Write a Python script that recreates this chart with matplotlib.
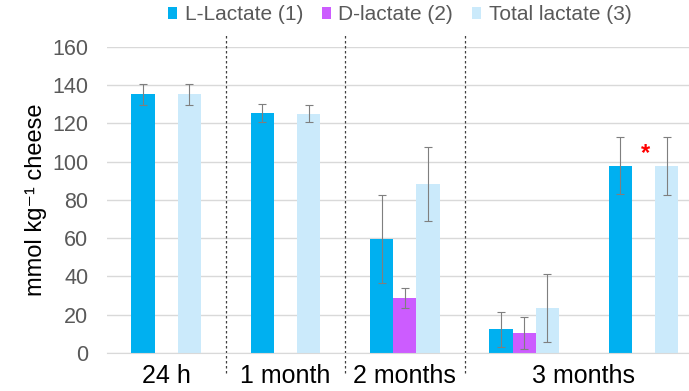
import matplotlib.pyplot as plt
import numpy as np

plt.rcParams['font.family'] = ['Liberation Sans', 'DejaVu Sans']

groups = ['24 h', '1 month', '2 months', '3 months', '3 months']
l_lactate = [135.3, 125.4, 59.6, 12.4, 97.9]
l_err = [5.5, 4.7, 23.0, 9.2, 15.0]
d_lactate = [0, 0, 28.9, 10.6, 0]
d_err = [0, 0, 5.3, 8.3, 0]
total = [135.3, 125.2, 88.4, 23.4, 97.7]
total_err = [5.5, 4.5, 19.4, 17.7, 15.2]
series_names = ['L-Lactate (1)', 'D-lactate (2)', 'Total lactate (3)']
colors = ['#00B0F0', '#CC5CFF', '#CBEAFB']

fig = plt.figure(figsize=(6.89, 3.91), dpi=100)
ax = fig.add_axes([0.1546, 0.0972, 0.866, 0.7826])

x = np.arange(len(groups))
w = 0.195
err_kw = dict(ecolor='#7F7F7F', elinewidth=0.8, capsize=3, capthick=0.8)
ax.bar(x - w, l_lactate, w, color=colors[0], label=series_names[0], zorder=2)
ax.bar(x, d_lactate, w, color=colors[1], label=series_names[1], zorder=2)
ax.bar(x + w, total, w, color=colors[2], label=series_names[2], zorder=2)
ax.errorbar(x - w, l_lactate, yerr=l_err, fmt='none', zorder=3, **err_kw)
nz = [i for i in range(len(x)) if d_lactate[i] > 0]
ax.errorbar(x[nz], [d_lactate[i] for i in nz], yerr=[d_err[i] for i in nz],
            fmt='none', zorder=3, **err_kw)
ax.errorbar(x + w, total, yerr=total_err, fmt='none', zorder=3, **err_kw)

ax.text(x[4] + 0.02, 104.5, '*', color='red', fontsize=17, fontweight='bold',
        ha='center', va='center')

ax.set_ylim(0, 160)
ax.set_xlim(-0.5, len(groups) - 0.5)
ax.set_yticks(range(0, 161, 20))
ax.tick_params(axis='y', labelsize=15.5, labelcolor='#595959', length=0, pad=13)
ax.grid(axis='y', color='#D9D9D9', linewidth=1, zorder=0)
ax.set_axisbelow(True)
for s in ['top', 'right', 'left']:
    ax.spines[s].set_visible(False)
ax.spines['bottom'].set_color('#D9D9D9')

ax.set_xticks([0, 1, 2, 3.5])
ax.set_xticklabels(['24 h', '1 month', '2 months', '3 months'], fontsize=18)
ax.tick_params(axis='x', length=0, pad=8)

ax.set_ylabel('mmol kg\u207b\u00b9 cheese', fontsize=17, labelpad=4)

# dashed separators between sampling times
for xs in [0.5, 1.5, 2.5]:
    ax.plot([xs, xs], [-0.065, 1.045], transform=ax.get_xaxis_transform(),
            color='#404040', linestyle=(0, (2, 2)), linewidth=0.9,
            clip_on=False, zorder=1)

fig.legend(loc='center', bbox_to_anchor=(0.58, 0.962), ncol=3, frameon=False,
           fontsize=15, handlelength=0.45, handleheight=0.45,
           handletextpad=0.35, columnspacing=0.9, labelcolor='#595959')

fig.savefig('out.png', dpi=100)
